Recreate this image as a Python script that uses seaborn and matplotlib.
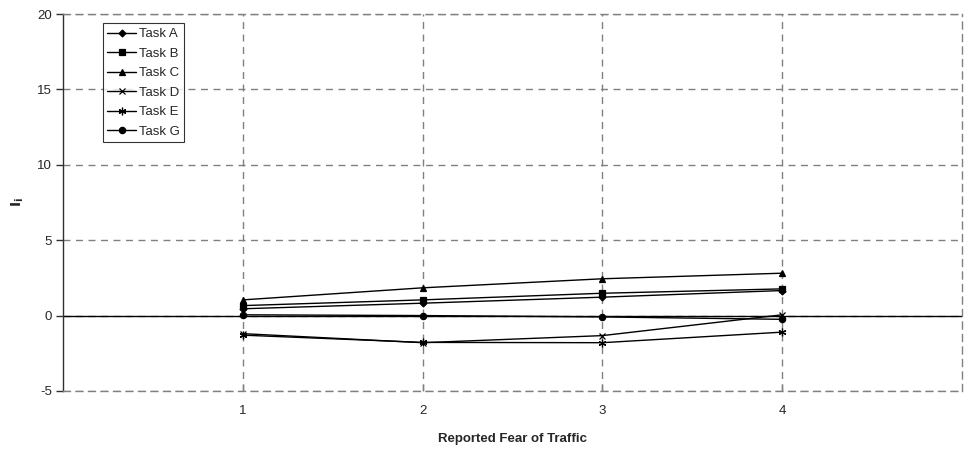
import numpy as np
import pandas as pd
import matplotlib
matplotlib.use("Agg")
import matplotlib.pyplot as plt
import seaborn as sns

# data
fear = [1, 2, 3, 4]
task_a = [0.45, 0.82, 1.22, 1.66]
task_b = [0.66, 1.04, 1.48, 1.77]
task_c = [1.04, 1.84, 2.44, 2.81]
task_d = [-1.20, -1.80, -1.33, 0.05]
task_e = [-1.30, -1.78, -1.80, -1.10]
task_g = [0.05, 0.00, -0.09, -0.25]

tasks = ["Task A", "Task B", "Task C", "Task D", "Task E", "Task G"]
series = [task_a, task_b, task_c, task_d, task_e, task_g]

df = pd.DataFrame({
    "fear": fear * len(tasks),
    "task": np.repeat(tasks, len(fear)),
    "value": np.concatenate(series),
})

sns.set_style("white")
plt.rcParams["font.family"] = ["Liberation Sans", "DejaVu Sans"]
plt.rcParams["axes.unicode_minus"] = False

fig = plt.figure(figsize=(9.66, 4.53), dpi=100)
ax = fig.add_axes([0.0652, 0.137, 0.9306, 0.832])

markers = {"Task A": "D", "Task B": "s", "Task C": "^",
           "Task D": "x", "Task E": (6, 2, 0), "Task G": "o"}
sizes = {"Task A": 3.5, "Task B": 4.5, "Task C": 5,
         "Task D": 5, "Task E": 5.5, "Task G": 4.5}

for t in tasks:
    sub = df[df["task"] == t]
    sns.lineplot(data=sub, x="fear", y="value", ax=ax, color="black",
                 marker=markers[t], markersize=sizes[t], linewidth=1.0,
                 markeredgecolor="black", markeredgewidth=0.9, label=t)

ax.axhline(0, color="black", linewidth=1.0, zorder=1)

ax.set_xlim(0, 5)
ax.set_ylim(-5, 20)
ax.set_xticks(fear)
ax.set_yticks([-5, 0, 5, 10, 15, 20])

ax.grid(True, color="#808080", linestyle=(0, (5, 4)), linewidth=1.0)
ax.set_axisbelow(True)
for side in ["top", "right", "bottom"]:
    ax.spines[side].set_color("#808080")
    ax.spines[side].set_linestyle((0, (5, 4)))
    ax.spines[side].set_linewidth(1.0)
ax.spines["left"].set_color("#303030")
ax.spines["left"].set_linewidth(1.0)

ax.tick_params(axis="y", direction="out", length=5, width=1,
               color="#303030", labelsize=9.5, left=True, pad=3)
ax.tick_params(axis="x", direction="in", length=5, width=1,
               color="#808080", labelsize=9.5, bottom=True, pad=10)

ax.set_xlabel("Reported Fear of Traffic", fontsize=9.5, fontweight="bold", labelpad=12)
ax.set_ylabel("$\\mathbf{I_i}$", fontsize=10, labelpad=8)

leg = ax.legend(loc="upper left", bbox_to_anchor=(0.044, 0.975),
                fontsize=9.5, frameon=True, fancybox=False, shadow=False,
                labelspacing=0.55, handlelength=2.2, handletextpad=0.2,
                borderpad=0.35, borderaxespad=0)
leg.get_frame().set_edgecolor("black")
leg.get_frame().set_linewidth(0.8)

fig.savefig("out.png", dpi=100)
